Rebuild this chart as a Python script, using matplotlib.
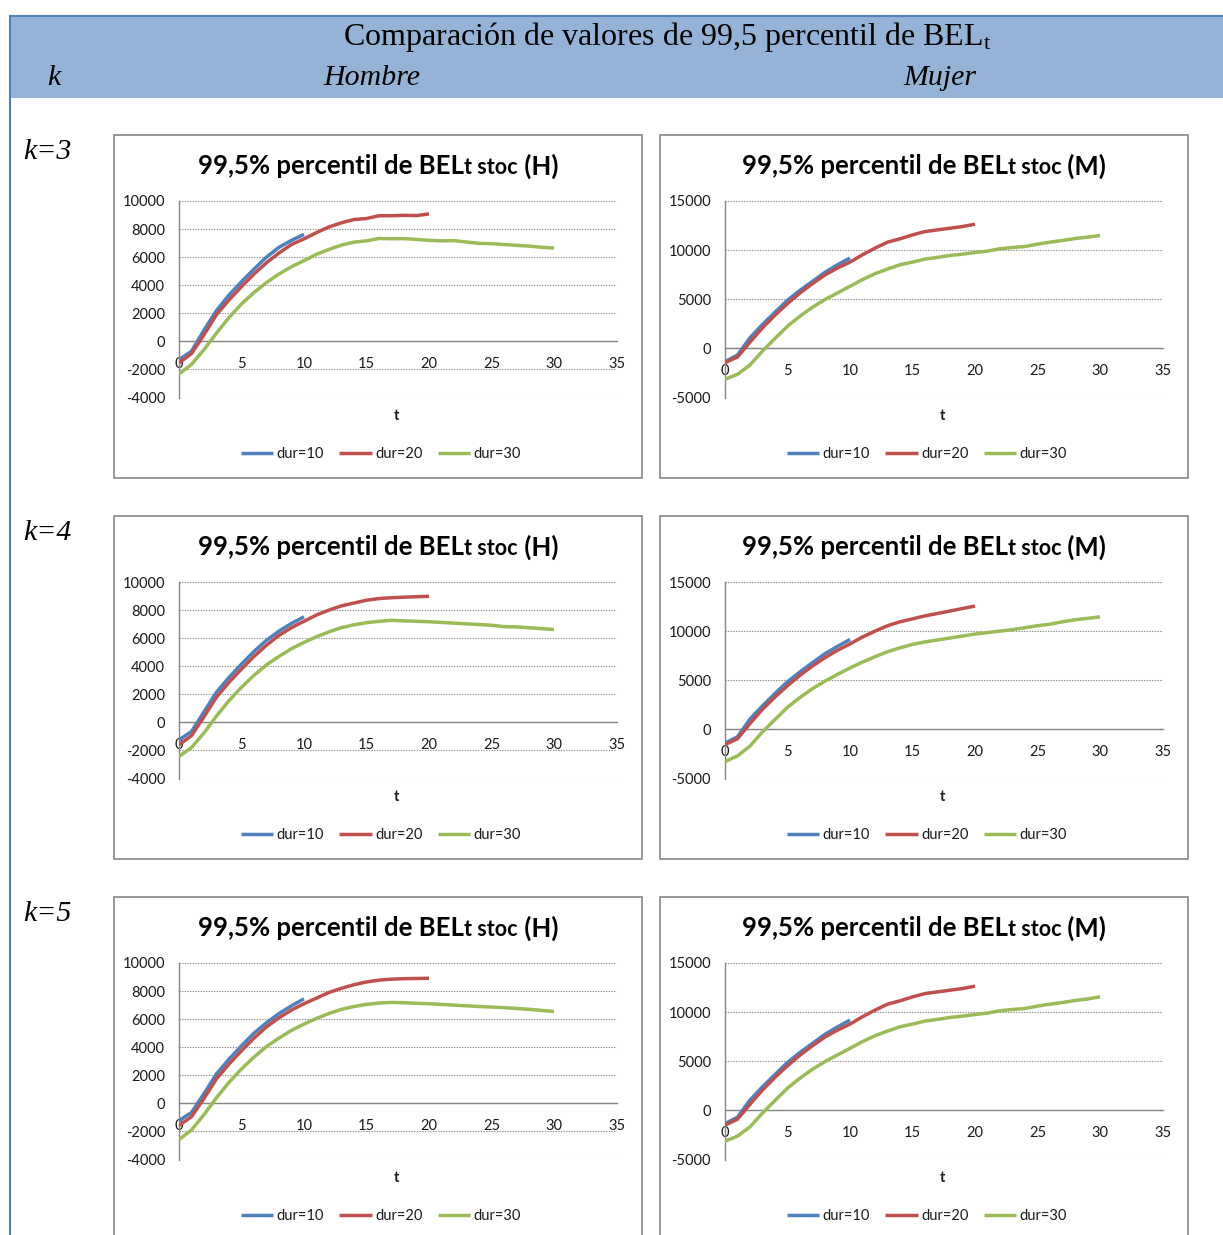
import matplotlib
matplotlib.use("Agg")
import matplotlib.pyplot as plt
from matplotlib.patches import Rectangle
from matplotlib.lines import Line2D
from matplotlib.offsetbox import TextArea, HPacker, AnnotationBbox

plt.rcParams['mathtext.fontset'] = 'custom'
plt.rcParams['mathtext.rm'] = 'Liberation Serif'
plt.rcParams['mathtext.it'] = 'Liberation Serif:italic'
plt.rcParams['axes.unicode_minus'] = False

# ---------------- data ----------------
t10 = list(range(0, 11))
t20 = list(range(0, 21))
t30 = list(range(0, 31))

series_labels = ["dur=10", "dur=20", "dur=30"]
k_labels = ["k=3", "k=4", "k=5"]

# Hombre (H)
h_k3_dur10 = [-1300, -700, 800, 2200, 3300, 4250, 5150, 6000, 6700, 7200, 7620]
h_k3_dur20 = [-1540, -870, 470, 1900, 2950, 3900, 4800, 5600, 6300, 6900, 7300,
              7750, 8150, 8450, 8680, 8750, 8950, 8950, 8980, 8960, 9080]
h_k3_dur30 = [-2320, -1650, -590, 590, 1700, 2670, 3480, 4190, 4800, 5320, 5750,
              6200, 6550, 6860, 7070, 7160, 7330, 7310, 7320, 7260, 7200,
              7160, 7180, 7080, 6980, 6960, 6900, 6840, 6790, 6700, 6650]

h_k4_dur10 = [-1250, -650, 750, 2150, 3200, 4150, 5050, 5850, 6500, 7050, 7520]
h_k4_dur20 = [-1600, -950, 400, 1800, 2850, 3800, 4700, 5500, 6200, 6750, 7200,
              7650, 8000, 8300, 8500, 8700, 8820, 8880, 8920, 8950, 8980]
h_k4_dur30 = [-2430, -1800, -750, 450, 1550, 2500, 3350, 4100, 4700, 5250, 5700,
              6100, 6450, 6750, 6950, 7100, 7200, 7270, 7230, 7200, 7170,
              7120, 7070, 7020, 6970, 6920, 6820, 6800, 6740, 6680, 6610]

h_k5_dur10 = [-1230, -650, 700, 2100, 3150, 4100, 5000, 5750, 6400, 6950, 7450]
h_k5_dur20 = [-1580, -950, 350, 1750, 2800, 3750, 4650, 5450, 6100, 6650, 7100,
              7500, 7900, 8200, 8450, 8650, 8780, 8850, 8880, 8900, 8910]
h_k5_dur30 = [-2580, -1900, -800, 400, 1500, 2450, 3300, 4050, 4650, 5200, 5650,
              6050, 6400, 6700, 6900, 7050, 7150, 7190, 7170, 7130, 7100,
              7050, 7000, 6950, 6900, 6860, 6820, 6760, 6700, 6620, 6550]

# Mujer (M)
m_k3_dur10 = [-1350, -680, 1080, 2430, 3680, 4900, 5910, 6820, 7740, 8510, 9190]
m_k3_dur20 = [-1450, -880, 640, 2090, 3380, 4560, 5640, 6590, 7470, 8180, 8780,
              9530, 10200, 10810, 11150, 11550, 11890, 12060, 12230, 12400, 12640]
m_k3_dur30 = [-3140, -2640, -1690, -270, 1010, 2260, 3280, 4190, 4970, 5640, 6320,
              7000, 7600, 8070, 8510, 8780, 9090, 9260, 9460, 9590, 9760,
              9900, 10140, 10270, 10370, 10610, 10810, 10980, 11180, 11320, 11490]

m_k4_dur10 = [-1400, -750, 1050, 2400, 3650, 4850, 5850, 6800, 7700, 8450, 9150]
m_k4_dur20 = [-1550, -950, 600, 2050, 3300, 4450, 5500, 6450, 7300, 8050, 8700,
              9400, 10000, 10550, 10950, 11250, 11550, 11800, 12050, 12300, 12550]
m_k4_dur30 = [-3280, -2700, -1700, -250, 1000, 2250, 3250, 4150, 4900, 5600, 6250,
              6850, 7400, 7900, 8300, 8650, 8900, 9100, 9300, 9500, 9700,
              9850, 10000, 10150, 10350, 10550, 10700, 10950, 11150, 11300, 11450]

m_k5_dur10 = [-1350, -700, 1050, 2400, 3650, 4880, 5900, 6820, 7740, 8500, 9190]
m_k5_dur20 = [-1500, -900, 620, 2070, 3360, 4540, 5620, 6580, 7460, 8170, 8780,
              9530, 10200, 10810, 11150, 11550, 11890, 12060, 12230, 12400, 12640]
m_k5_dur30 = [-3140, -2620, -1680, -270, 1010, 2260, 3280, 4190, 4970, 5640, 6320,
              7000, 7600, 8070, 8510, 8780, 9090, 9260, 9460, 9590, 9760,
              9900, 10140, 10270, 10370, 10610, 10810, 10980, 11180, 11340, 11560]

h_yticks = [-4000, -2000, 0, 2000, 4000, 6000, 8000, 10000]
m_yticks = [-5000, 0, 5000, 10000, 15000]
x_ticks = [0, 5, 10, 15, 20, 25, 30, 35]

# ---------------- layout ----------------
W, H = 1223, 1235
fig = plt.figure(figsize=(W / 100, H / 100), dpi=100)
fig.patch.set_facecolor('white')


def fx(x):
    return x / W


def fy(y):
    return 1 - y / H


colors = ['#4F81BD', '#C0504D', '#9BBB59']
grid_col = '#8C8C8C'
axis_col = '#868686'
text_col = '#1A1A1A'
chart_font = 'Lato'
serif = 'Liberation Serif'

# header band and left rule
fig.patches.append(Rectangle((fx(10), fy(98)), (W - 10) / W, 82 / H,
                             transform=fig.transFigure, facecolor='#95B3D7',
                             edgecolor='none', zorder=0))
fig.lines.append(Line2D([fx(10), 1], [fy(16), fy(16)], transform=fig.transFigure,
                        color='#4F81BD', lw=1.5))
fig.lines.append(Line2D([fx(10), fx(10)], [fy(16), 0], transform=fig.transFigure,
                        color='#4F81BD', lw=1.5))

fig.text(fx(667), fy(37), "Comparación de valores de 99,5 percentil de BEL$_{\\mathrm{t}}$",
         ha='center', va='center', fontsize=23, family=serif, color='black')
fig.text(fx(54), fy(78), "k", ha='center', va='center', fontsize=21.5,
         family=serif, style='italic', color='black')
fig.text(fx(372), fy(78), "Hombre", ha='center', va='center', fontsize=21.5,
         family=serif, style='italic', color='black')
fig.text(fx(940), fy(78), "Mujer", ha='center', va='center', fontsize=21.5,
         family=serif, style='italic', color='black')

rows_y = [135, 516, 897]
cols_x = [114, 660]
panel_w, panel_h = 528, 343
plot_l, plot_t, plot_w, plot_h = 65, 66, 437.5, 196.5

data = [
    [(h_k3_dur10, h_k3_dur20, h_k3_dur30), (m_k3_dur10, m_k3_dur20, m_k3_dur30)],
    [(h_k4_dur10, h_k4_dur20, h_k4_dur30), (m_k4_dur10, m_k4_dur20, m_k4_dur30)],
    [(h_k5_dur10, h_k5_dur20, h_k5_dur30), (m_k5_dur10, m_k5_dur20, m_k5_dur30)],
]


def chart_title(cx, cy, sex):
    big = dict(fontsize=18.5, fontweight='bold', family=chart_font, color='black')
    small = dict(fontsize=15.5, fontweight='bold', family=chart_font, color='black')
    parts = [TextArea("99,5% percentil de BEL", textprops=big),
             TextArea("t stoc", textprops=small),
             TextArea(" (%s)" % sex, textprops=big)]
    pack = HPacker(children=parts, align='baseline', pad=0, sep=0)
    ab = AnnotationBbox(pack, (cx, cy), xycoords='figure fraction',
                        frameon=False, box_alignment=(0.5, 0.5), pad=0)
    fig.add_artist(ab)


for r, py in enumerate(rows_y):
    fig.text(fx(47), fy(py + 17), k_labels[r], ha='center', va='center',
             fontsize=21.5, family=serif, style='italic', color='black')
    for c, px in enumerate(cols_x):
        fig.patches.append(Rectangle((fx(px), fy(py + panel_h)), panel_w / W, panel_h / H,
                                     transform=fig.transFigure, fill=False,
                                     edgecolor=axis_col, lw=1.2, zorder=1))
        ax = fig.add_axes([fx(px + plot_l), fy(py + plot_t + plot_h), plot_w / W, plot_h / H])
        s10, s20, s30 = data[r][c]
        handles = []
        for tt, yy, col in zip((t10, t20, t30), (s10, s20, s30), colors):
            ln, = ax.plot(tt, yy, color=col, lw=2.5, solid_capstyle='butt',
                          solid_joinstyle='round', zorder=3)
            handles.append(ln)
        ax.set_xlim(0, 35)
        if c == 0:
            ax.set_ylim(-4000, 10000)
            ax.set_yticks(h_yticks)
        else:
            ax.set_ylim(-5000, 15000)
            ax.set_yticks(m_yticks)
        ax.set_xticks(x_ticks)
        ax.grid(axis='y', color=grid_col, linestyle=(0, (1.2, 1.2)), lw=0.8, zorder=0)
        for sp in ('top', 'right'):
            ax.spines[sp].set_visible(False)
        ax.spines['left'].set_color(axis_col)
        ax.spines['left'].set_linewidth(1.0)
        ax.spines['bottom'].set_position(('data', 0))
        ax.spines['bottom'].set_color(axis_col)
        ax.spines['bottom'].set_linewidth(1.0)
        ax.tick_params(axis='both', length=0, labelsize=10.5, labelcolor=text_col)
        ax.tick_params(axis='x', pad=11)
        ax.tick_params(axis='y', pad=10)
        for lab in ax.get_xticklabels() + ax.get_yticklabels():
            lab.set_family(chart_font)
        ax.set_xlabel('t', fontsize=10.5, fontweight='bold', family=chart_font, color=text_col)
        ax.xaxis.set_label_coords(0.498, -0.061)
        ax.patch.set_alpha(0)

        chart_title(fx(px + 264), fy(py + 31), 'H' if c == 0 else 'M')

        ax.legend(handles, series_labels, loc='center',
                  bbox_to_anchor=(fx(px + 267), fy(py + 319)),
                  bbox_transform=fig.transFigure, ncol=3, frameon=False,
                  prop={'family': chart_font, 'size': 10.5}, handlelength=2.2,
                  handletextpad=0.25, columnspacing=1.05, labelcolor=text_col)

fig.savefig('out.png', dpi=100)
